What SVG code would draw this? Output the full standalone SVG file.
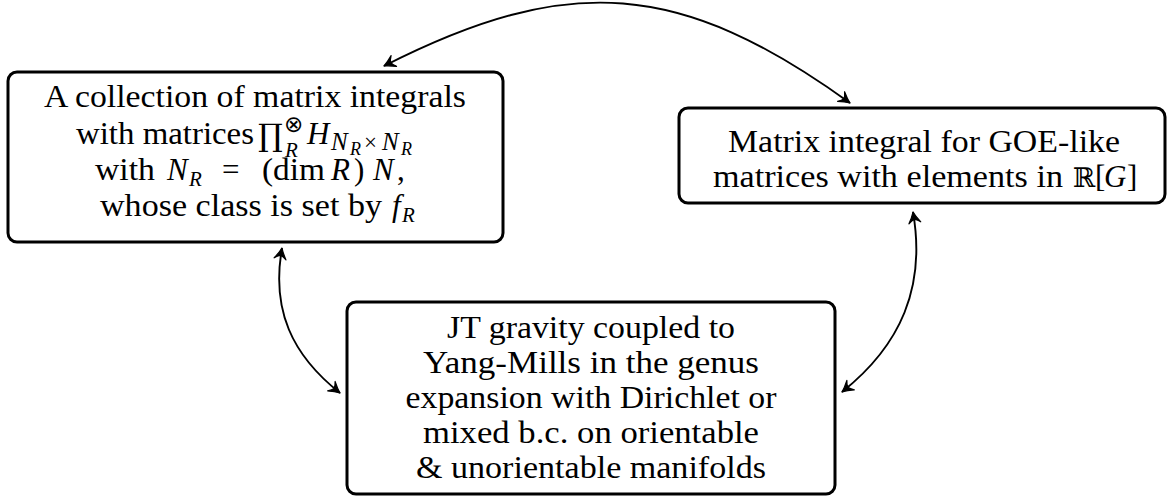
<svg xmlns="http://www.w3.org/2000/svg" width="1168" height="497" viewBox="0 0 1168 497">
<style>
.box{fill:#fff;stroke:#000;stroke-width:3}
.t{font-family:"Liberation Serif","Times New Roman",serif;font-size:31px;fill:#000}
.c{text-anchor:middle}
.i{font-style:italic}
.conn{fill:none;stroke:#000;stroke-width:1.9}
</style>
<defs>
<marker id="ah" viewBox="-13 -8 15 16" markerWidth="15" markerHeight="16" refX="0" refY="0" orient="auto-start-reverse" markerUnits="userSpaceOnUse">
<path d="M0,0 Q-5,-2 -11,-6 Q-8,-2.5 -7.5,0 Q-8,2.5 -11,6 Q-5,2 0,0 Z" fill="#000" stroke="#000" stroke-width="1.2" stroke-linejoin="round"/>
</marker>
</defs>
<g id="connectors">
<path class="conn" d="M384,66 C569,-28 681,-19 850,103" marker-start="url(#ah)" marker-end="url(#ah)"/>
<path class="conn" d="M282,248 C271,310 292,355 340,393" marker-start="url(#ah)" marker-end="url(#ah)"/>
<path class="conn" d="M913,212 C926,287 901,345 842,392" marker-start="url(#ah)" marker-end="url(#ah)"/>
</g>
<g id="node-left">
<rect class="box" x="8" y="72" width="495" height="170" rx="9"/>
<text class="t c" x="255" y="107" textLength="422" lengthAdjust="spacingAndGlyphs">A collection of matrix integrals</text>
<text class="t" x="76" y="144" textLength="178" lengthAdjust="spacingAndGlyphs">with matrices</text>
<text class="t" x="258" y="146" style="font-family:'DejaVu Serif',serif;font-size:31px">∏</text>
<text class="t" x="284" y="132" style="font-family:'DejaVu Sans',sans-serif;font-size:23px">⊗</text>
<text class="t i" x="285" y="157" style="font-size:21px">R</text>
<text class="t i" x="307" y="144">H</text>
<text class="t i" x="331" y="150" style="font-size:25px">N</text>
<text class="t i" x="350" y="155" style="font-size:18px">R</text>
<text class="t" x="364" y="150" style="font-size:23px">×</text>
<text class="t i" x="382" y="150" style="font-size:25px">N</text>
<text class="t i" x="401" y="155" style="font-size:18px">R</text>
<text class="t" x="95" y="180" textLength="60" lengthAdjust="spacingAndGlyphs">with</text>
<text class="t i" x="167" y="180">N</text>
<text class="t i" x="189" y="186" style="font-size:21px">R</text>
<text class="t" x="222" y="180">=</text>
<text class="t" x="262" y="180" textLength="63" lengthAdjust="spacingAndGlyphs">(dim</text>
<text class="t i" x="331" y="180">R</text>
<text class="t" x="354" y="180">)</text>
<text class="t i" x="373" y="180">N</text>
<text class="t" x="397" y="180">,</text>
<text class="t" x="100" y="216" textLength="282" lengthAdjust="spacingAndGlyphs">whose class is set by</text>
<text class="t i" x="392" y="216">f</text>
<text class="t i" x="402" y="222" style="font-size:21px">R</text>
</g>
<g id="node-right">
<rect class="box" x="679" y="108" width="486" height="95" rx="9"/>
<text class="t c" x="924" y="152" textLength="392" lengthAdjust="spacingAndGlyphs">Matrix integral for GOE-like</text>
<text class="t" x="713" y="187" textLength="350" lengthAdjust="spacingAndGlyphs">matrices with elements in</text>
<text class="t" x="1073" y="187" style="font-family:'DejaVu Serif',serif;font-size:27px">ℝ</text>
<text class="t" x="1095" y="187">[</text>
<text class="t i" x="1104" y="187">G</text>
<text class="t" x="1127" y="187">]</text>
</g>
<g id="node-bottom">
<rect class="box" x="347" y="302" width="488" height="192" rx="9"/>
<text class="t c" x="591" y="338" textLength="288" lengthAdjust="spacingAndGlyphs">JT gravity coupled to</text>
<text class="t c" x="591" y="373" textLength="336" lengthAdjust="spacingAndGlyphs">Yang-Mills in the genus</text>
<text class="t c" x="591" y="408" textLength="371" lengthAdjust="spacingAndGlyphs">expansion with Dirichlet or</text>
<text class="t c" x="591" y="443" textLength="336" lengthAdjust="spacingAndGlyphs">mixed b.c.  on orientable</text>
<text class="t c" x="591" y="478" textLength="350" lengthAdjust="spacingAndGlyphs">&amp; unorientable manifolds</text>
</g>
</svg>
